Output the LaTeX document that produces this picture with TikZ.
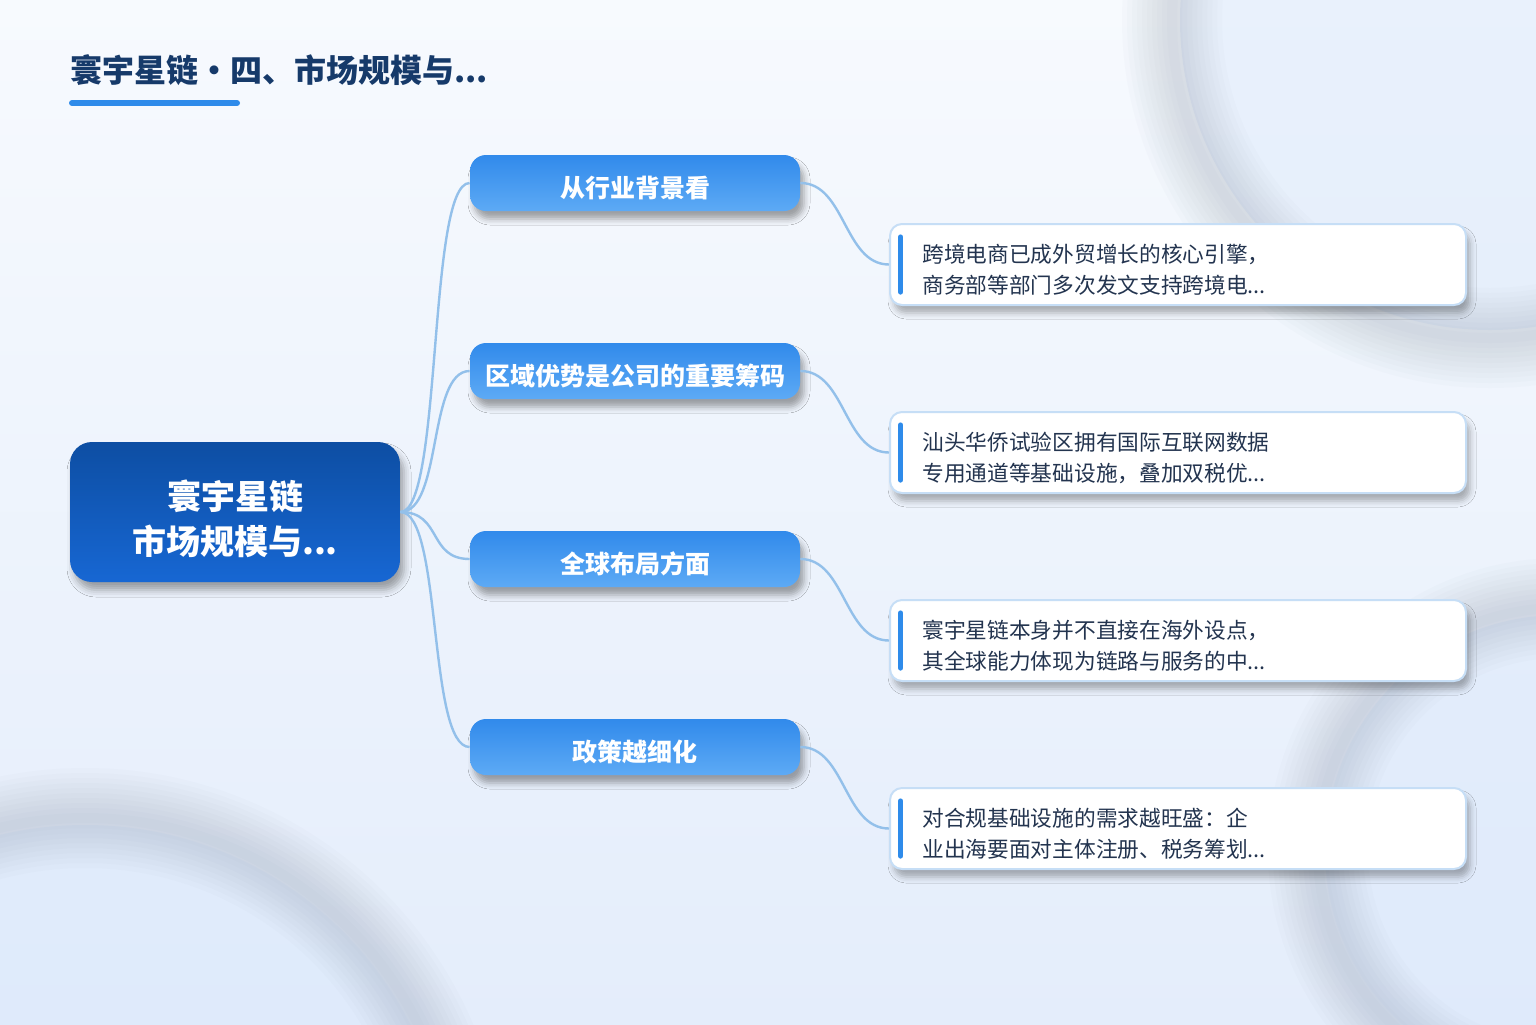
\documentclass[tikz,border=0pt]{standalone}
\usepackage{fontspec}
\setmainfont{Noto Sans CJK SC}
\usetikzlibrary{shadows.blur}
\definecolor{bgtop}{HTML}{F7FAFE}
\definecolor{bgbot}{HTML}{E4EDFB}
\definecolor{titlec}{HTML}{163A6A}
\definecolor{accent}{HTML}{2E8BEA}
\definecolor{roottop}{HTML}{0D4EA3}
\definecolor{rootbot}{HTML}{1767D3}
\definecolor{brtop}{HTML}{318AEB}
\definecolor{brbot}{HTML}{5DAAF5}
\definecolor{linkc}{HTML}{93C0EA}
\definecolor{leafborder}{HTML}{C6DEF6}
\definecolor{leaftext}{HTML}{23344F}
\definecolor{ringc}{HTML}{8C98AA}
\definecolor{circin}{HTML}{DCE9FB}
\tikzset{
  rootbox/.style={rounded corners=11pt, minimum width=165pt, minimum height=70pt, inner sep=0pt,
    top color=roottop, bottom color=rootbot, text=white, align=center,
    font=\fontsize{17}{23}\selectfont\bfseries,
    blur shadow={shadow xshift=2pt, shadow yshift=-4pt, shadow blur radius=3.5pt, shadow opacity=35}},
  branchbox/.style={rounded corners=8pt, minimum width=165pt, minimum height=28pt, inner sep=0pt,
    top color=brtop, bottom color=brbot, text=white,
    font=\fontsize{12.5}{15}\selectfont\bfseries,
    blur shadow={shadow xshift=2pt, shadow yshift=-4pt, shadow blur radius=3pt, shadow opacity=35}},
  leafbox/.style={rounded corners=6pt, minimum width=288pt, minimum height=40.5pt, inner sep=0pt,
    fill=white, draw=leafborder, line width=1pt,
    blur shadow={shadow xshift=2pt, shadow yshift=-4pt, shadow blur radius=3pt, shadow opacity=30}},
  leaftxt/.style={anchor=west, inner sep=0pt, align=left, text=leaftext,
    font=\fontsize{10.85}{15.5}\selectfont},
  link/.style={draw=linkc, line width=1.2pt},
  ring/.style={ringc, opacity=0.032},
  accbar/.style={accent, line width=2.6pt, line cap=round},
}
\newcommand{\leafbar}[1]{\draw[accbar] ([xshift=5.8pt,yshift=-7pt]#1.north west) -- ([xshift=5.8pt,yshift=7pt]#1.south west);}
\newcommand{\dn}[2]{\raisebox{-#1}[\height][\depth]{#2}}
\begin{document}
\begin{tikzpicture}[x=0.5pt,y=-0.5pt]
\useasboundingbox (0,0) rectangle (1536,1024);
\shade[top color=bgtop, bottom color=bgbot] (0,0) rectangle (1536,1024);
\begin{scope}
  \clip (0,0) rectangle (1536,1024);
  \fill[circin, opacity=0.5] (1490,20) circle (310);
  \fill[circin, opacity=0.6] (85,1190) circle (365);
  \fill[circin, opacity=0.5] (1560,850) circle (235);
  \foreach \w in {5,10,15,20,25,30,35,40,45,50} {
    \draw[ring, line width=\w pt] (1490,20) circle (318);
    \draw[ring, line width=\w pt] (85,1190) circle (372);
    \draw[ring, line width=\w pt] (1560,850) circle (242);
  }
\end{scope}
% title
\node[anchor=base west, inner sep=0pt, text=titlec, font=\fontsize{16}{18}\selectfont\bfseries] (title) at (70,82) {寰宇星链・四、市场规模与...};
\draw[accent, line width=3pt, line cap=round] (72,103) -- (237,103);
% nodes
\node[rootbox] (root) at (235,512) {\dn{5.5pt}{\begin{tabular}{@{}c@{}}寰宇星链\\[-0.3pt]市场规模与...\end{tabular}}};
\node[branchbox] (b1) at (635,183) {\dn{2.5pt}{从行业背景看}};
\node[branchbox] (b2) at (635,371) {\dn{2.5pt}{区域优势是公司的重要筹码}};
\node[branchbox] (b3) at (635,559) {\dn{2.5pt}{全球布局方面}};
\node[branchbox] (b4) at (635,747) {\dn{2.5pt}{政策越细化}};

\node[leafbox] (l1) at (1178,264.5) {};
\node[leafbox] (l2) at (1178,452.5) {};
\node[leafbox] (l3) at (1178,640.5) {};
\node[leafbox] (l4) at (1178,828.5) {};
\leafbar{l1}\leafbar{l2}\leafbar{l3}\leafbar{l4}
\node[leaftxt] (t1) at (922,269.5) {跨境电商已成外贸增长的核心引擎，\\商务部等部门多次发文支持跨境电...};
\node[leaftxt] (t2) at (922,457.5) {汕头华侨试验区拥有国际互联网数据\\专用通道等基础设施，叠加双税优...};
\node[leaftxt] (t3) at (922,645.5) {寰宇星链本身并不直接在海外设点，\\其全球能力体现为链路与服务的中...};
\node[leaftxt] (t4) at (922,833.5) {对合规基础设施的需求越旺盛：企\\业出海要面对主体注册、税务筹划...};
% connectors
\foreach \i in {1,2,3,4} {
  \draw[link] (root.east) .. controls +(42,0) and +(-42,0) .. (b\i.west);
  \draw[link] (b\i.east) .. controls +(45,0) and +(-45,0) .. (l\i.west);
}
\end{tikzpicture}
\end{document}
